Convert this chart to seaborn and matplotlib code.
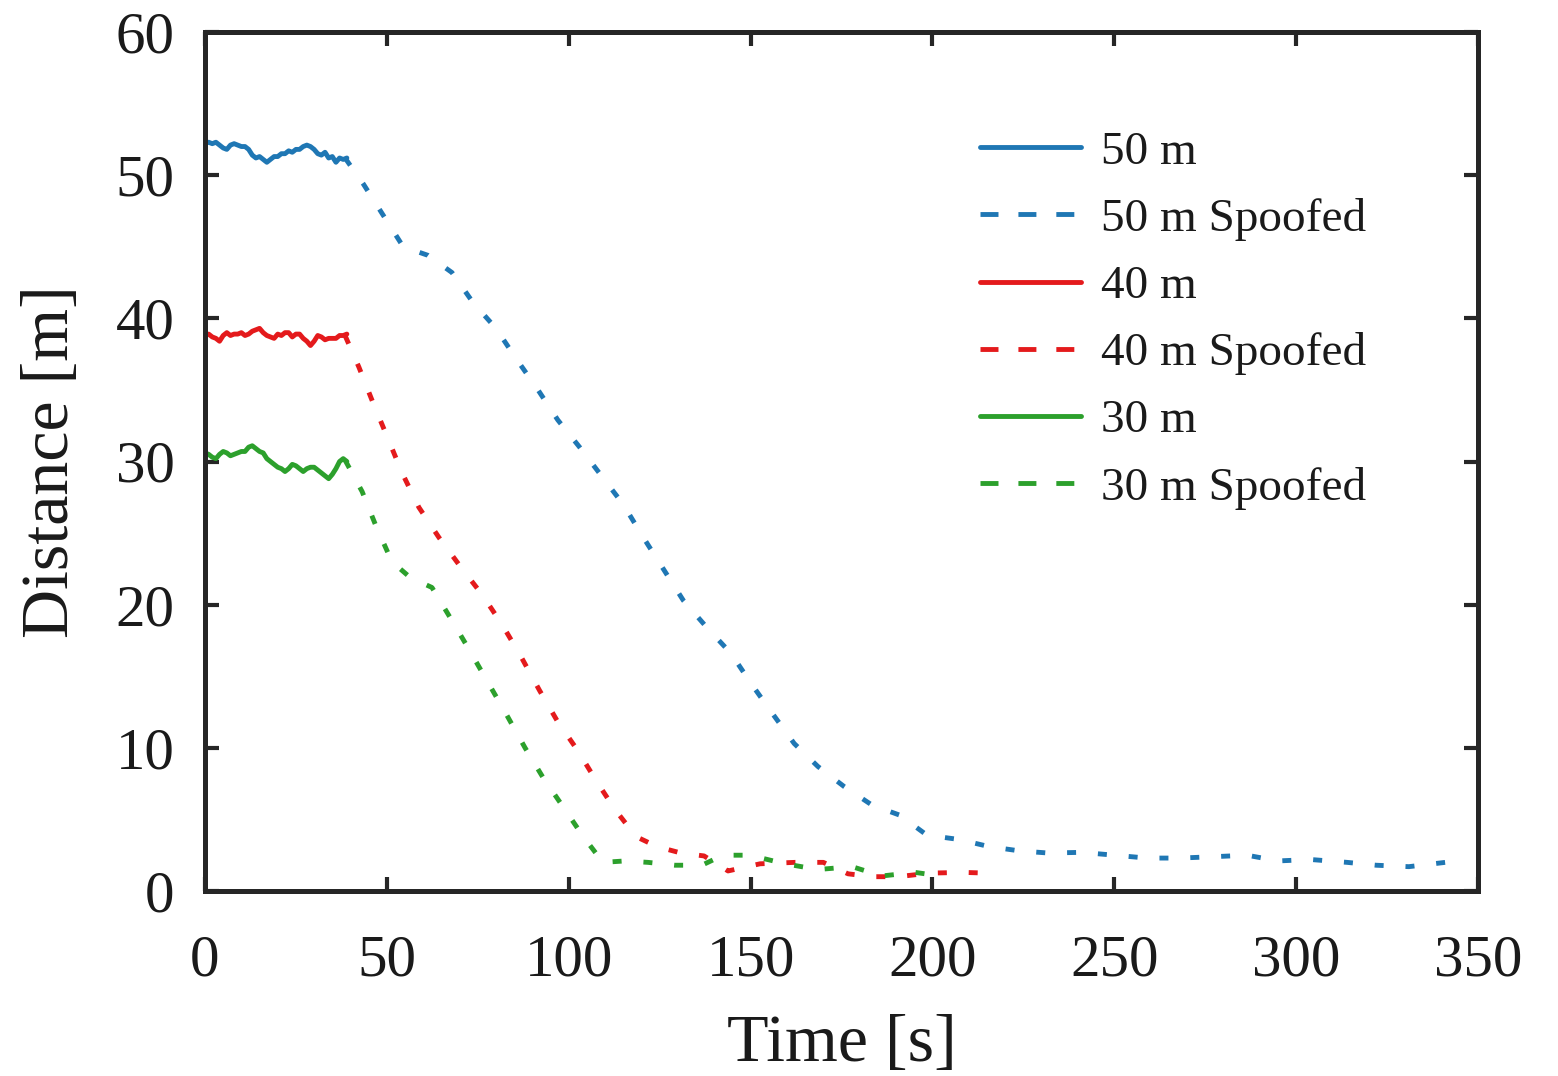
import numpy as np
import pandas as pd
import seaborn as sns
import matplotlib.pyplot as plt
from matplotlib.lines import Line2D

# solid segments, sampled every second from 0 to 39 s
t_solid = list(range(0, 40))
d50 = [52.2, 52.3, 52.2, 52.3, 52.1, 51.9, 51.8, 52.1, 52.2, 52.1,
       52.0, 52.0, 51.8, 51.4, 51.2, 51.3, 51.1, 50.9, 51.1, 51.3,
       51.3, 51.5, 51.5, 51.7, 51.6, 51.8, 51.8, 52.0, 52.1, 52.0,
       51.8, 51.5, 51.4, 51.6, 51.2, 51.3, 50.9, 51.2, 51.1, 51.2]
d40 = [38.8, 38.9, 38.7, 38.6, 38.4, 38.8, 39.0, 38.8, 38.9, 38.9,
       39.0, 38.8, 38.9, 39.1, 39.2, 39.3, 39.0, 38.8, 38.7, 38.6,
       38.9, 38.8, 39.0, 39.0, 38.7, 38.9, 38.9, 38.6, 38.4, 38.1,
       38.4, 38.8, 38.7, 38.5, 38.6, 38.6, 38.6, 38.8, 38.8, 38.9]
d30 = [30.6, 30.5, 30.3, 30.2, 30.5, 30.7, 30.6, 30.4, 30.5, 30.6,
       30.7, 30.7, 31.0, 31.1, 30.9, 30.7, 30.6, 30.2, 30.0, 29.8,
       29.6, 29.5, 29.3, 29.5, 29.8, 29.7, 29.5, 29.3, 29.5, 29.6,
       29.6, 29.4, 29.2, 29.0, 28.8, 29.1, 29.5, 30.0, 30.2, 30.0]

# spoofed segments
t50s = [38.5, 43.5, 49, 54.5, 61.3, 67.9, 73.7, 80, 85.5, 91.3, 97, 103, 109,
        115, 120.5, 126, 131.5, 138, 144.6, 150.4, 156, 162, 168.5, 175.7,
        183.4, 191, 198.5, 207.3, 215.6, 224, 232, 241, 250, 259, 268, 277.7,
        286.5, 295, 304, 314, 322, 331, 341, 344]
d50s = [51.2, 49.4, 47.2, 45.0, 44.4, 43.2, 41.1, 39.3, 37.2, 35.1, 32.9, 31.0,
        29.0, 27.0, 24.7, 22.5, 20.3, 18.4, 16.6, 14.4, 12.4, 10.3, 8.7, 7.3,
        6.0, 5.3, 3.9, 3.6, 3.1, 2.8, 2.65, 2.7, 2.5, 2.3, 2.3, 2.4, 2.5, 2.1,
        2.2, 2.0, 1.8, 1.7, 2.0, 2.0]
t40s = [38.5, 42.3, 46.2, 50.3, 54.2, 58.8, 64.3, 70.4, 76.2, 81.7, 86.6, 92,
        96.8, 102.5, 107.8, 112.7, 118.5, 124.3, 130.9, 137.2, 143.8, 152.6,
        162.2, 170, 176.8, 183.4, 190.5, 199.3, 208.4, 215, 216]
d40s = [38.8, 36.6, 34.1, 31.6, 29.2, 26.8, 24.7, 22.6, 20.7, 18.6, 16.5, 14.0,
        11.9, 9.8, 7.6, 5.7, 3.8, 3.1, 2.65, 2.45, 1.4, 1.9, 2.0, 2.0, 1.2,
        1.0, 1.0, 1.25, 1.3, 1.25, 1.2]
t30s = [38.5, 43.2, 47, 51.4, 56.4, 62.4, 67.4, 72.3, 77.5, 82.5, 88, 93, 98.4,
        104, 109.4, 115.5, 121.8, 129.2, 136.6, 142.4, 149.8, 159.5, 168.5,
        177.9, 186.1, 195.2, 198]
d30s = [30.1, 27.9, 25.5, 23.0, 21.9, 21.2, 19.1, 17.0, 14.7, 12.5, 10.0, 7.9,
        5.9, 3.8, 2.0, 2.1, 2.0, 1.8, 1.8, 2.5, 2.5, 1.9, 1.5, 1.7, 1.05, 1.3,
        1.2]

labels = ["50 m", "50 m Spoofed", "40 m", "40 m Spoofed", "30 m", "30 m Spoofed"]
colors = ["#1f77b4", "#1f77b4", "#e41a1c", "#e41a1c", "#2ca02c", "#2ca02c"]
series = [(t_solid, d50), (t50s, d50s), (t_solid, d40), (t40s, d40s),
          (t_solid, d30), (t30s, d30s)]

sns.set_style('ticks')
plt.rcParams['font.family'] = ['Liberation Serif', 'DejaVu Serif']
txt = '#1a1a1a'

fig = plt.figure(figsize=(15.58, 10.76), dpi=100)
ax = fig.add_axes([205 / 1558, 1 - 891 / 1076, 1273 / 1558, 859 / 1076])

lw = 3.5
plot_dash = (0, (1.85, 4.5))
leg_dash = (0, (3.7, 4.1))
handles = []
for i, ((t, d), lab, c) in enumerate(zip(series, labels, colors)):
    df = pd.DataFrame({"time": t, "dist": d})
    ls = '-' if i % 2 == 0 else plot_dash
    sns.lineplot(data=df, x="time", y="dist", ax=ax, color=c, lw=lw,
                 linestyle=ls, sort=False, estimator=None)
    handles.append(Line2D([], [], color=c, lw=lw,
                          linestyle='-' if i % 2 == 0 else leg_dash))

ax.set_xlim(0, 350)
ax.set_ylim(0, 60)
ax.set_xticks(np.arange(0, 351, 50))
ax.set_yticks(np.arange(0, 61, 10))
for s in ax.spines.values():
    s.set_visible(True)
    s.set_linewidth(3.6)
    s.set_color('#262626')
ax.tick_params(direction='in', length=10, width=3, colors='#262626',
               top=True, right=True, labelsize=42.5, labelcolor=txt)
ax.tick_params(axis='x', pad=31)
ax.tick_params(axis='y', pad=22)
ax.set_xlabel("Time [s]", fontsize=49, color=txt, labelpad=19)
ax.set_ylabel("Distance [m]", fontsize=49, color=txt, labelpad=24)

ax.legend(handles, labels, loc='upper left', bbox_to_anchor=(0.609, 0.885),
          frameon=False, fontsize=34, handlelength=2.13, handletextpad=0.43,
          labelspacing=0.51, borderpad=0, borderaxespad=0, labelcolor=txt)

fig.savefig("out.png", dpi=100)
